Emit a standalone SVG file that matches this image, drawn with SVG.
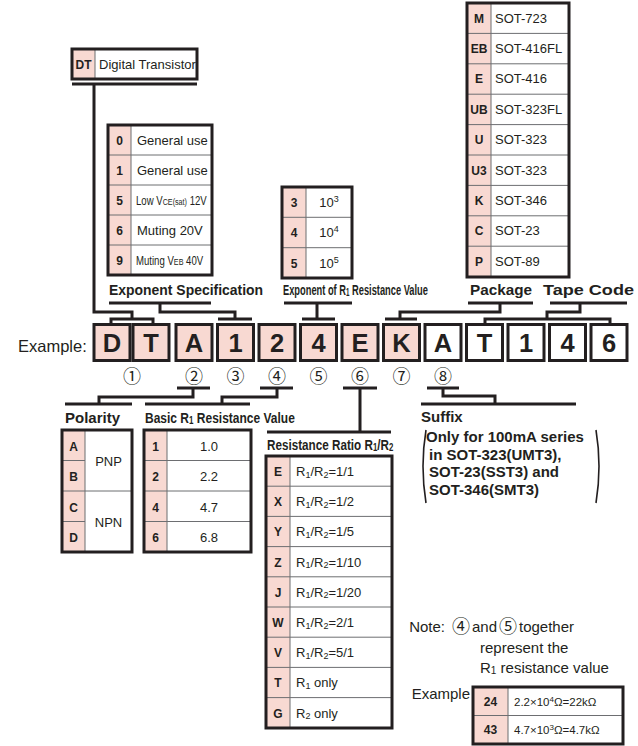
<svg xmlns="http://www.w3.org/2000/svg" width="638" height="746" viewBox="0 0 638 746">
<style>
.bg{fill:#fff}
.tb{fill:none;stroke:#231f20;stroke-width:3}
.pk{fill:#f8d9d2}
.dv{stroke:#6d6e71;stroke-width:1;fill:none}
.ln{fill:none;stroke:#231f20;stroke-width:3}
.pr{fill:none;stroke:#231f20;stroke-width:1.6}
text{font-family:"Liberation Sans",Arial,sans-serif;fill:#231f20}
.lt{font-weight:bold;font-size:12px;text-anchor:middle}
.tx{font-size:13px}
.tc{font-size:13px;text-anchor:middle}
.hd{font-weight:bold;font-size:15px}
.big{font-weight:bold;font-size:25.5px;text-anchor:middle}
.cn{font-family:"Noto Sans CJK JP","DejaVu Sans",sans-serif;font-size:18px;text-anchor:middle}
.nt{font-size:15px}
.bx{stroke:#231f20;stroke-width:3}
.wf{fill:#fff}
</style>
<rect width="638" height="746" class="bg"/>

<!-- connectors -->
<g id="connectors">
<path class="ln" d="M72,84H197M94,84V312H132V319M111,324V319H153V324"/>
<path class="ln" d="M109,303H211M160,303V312H235V319M218,319H252"/>
<path class="ln" d="M284,303H352M317,303V319M302,319H335"/>
<path class="ln" d="M468,303H533M500,303V312H400V319M385,319H417"/>
<path class="ln" d="M550,303H627M580,303V312H547V319M485,324V319H610V324"/>
<path class="ln" d="M177,388H210M193,388V397H99V404M65,404H132"/>
<path class="ln" d="M260,388H293M277,388V397H222V404M145,404H250"/>
<path class="ln" d="M343,388H377M360,388V432M267,432H391"/>
<path class="ln" d="M427,388H459M443,388V396H495V404M421,404H576"/>
</g>

<!-- DT -->
<g id="dt">
<rect x="72" y="49" width="125" height="30" class="wf"/>
<rect x="72" y="49" width="23" height="30" class="pk"/>
<line x1="95" y1="49" x2="95" y2="79" class="dv"/>
<rect x="72" y="49" width="125" height="30" class="tb"/>
<text x="83.5" y="69" class="lt">DT</text>
<text x="99" y="69" class="tx" font-size="12.5">Digital Transistor</text>
</g>

<!-- Exponent specification -->
<g id="exponent-spec">
<rect x="108" y="125" width="104" height="150" class="wf"/>
<rect x="108" y="125" width="23" height="150" class="pk"/>
<path class="dv" d="M131,125V275M108,155H212M108,185H212M108,215H212M108,245H212"/>
<rect x="108" y="125" width="104" height="150" class="tb"/>
<text x="119.5" y="145" class="lt">0</text>
<text x="119.5" y="175" class="lt">1</text>
<text x="119.5" y="205" class="lt">5</text>
<text x="119.5" y="235" class="lt">6</text>
<text x="119.5" y="265" class="lt">9</text>
<text x="137" y="145" class="tx">General use</text>
<text x="137" y="175" class="tx">General use</text>
<text transform="matrix(0.8,0,0,1,136,205)" font-size="12">Low V<tspan font-size="9">CE(sat)</tspan> 12V</text>
<text x="137" y="235" class="tx" font-size="13.5">Muting 20V</text>
<text transform="matrix(0.8,0,0,1,136,265)" font-size="12">Muting V<tspan font-size="9">EB</tspan> 40V</text>
<text transform="matrix(0.93,0,0,1,109,295)" class="hd">Exponent Specification</text>
</g>

<!-- Exponent of R1 -->
<g id="exponent-r1">
<rect x="282" y="187" width="70" height="91" class="wf"/>
<rect x="282" y="187" width="24" height="91" class="pk"/>
<path class="dv" d="M306,187V278M282,217.3H352M282,247.7H352"/>
<rect x="282" y="187" width="70" height="91" class="tb"/>
<text x="294" y="207" class="lt">3</text>
<text x="294" y="237.3" class="lt">4</text>
<text x="294" y="267.7" class="lt">5</text>
<text x="329" y="207" class="tc">10<tspan font-size="9" dy="-5">3</tspan></text>
<text x="329" y="237.3" class="tc">10<tspan font-size="9" dy="-5">4</tspan></text>
<text x="329" y="267.7" class="tc">10<tspan font-size="9" dy="-5">5</tspan></text>
<text transform="matrix(0.62,0,0,1,283,295)" class="hd" font-size="14.5">Exponent of R<tspan font-size="10" dy="1">1</tspan><tspan dy="-1"> Resistance Value</tspan></text>
</g>

<!-- Package -->
<g id="package">
<rect x="467" y="3" width="102" height="274" class="wf"/>
<rect x="467" y="3" width="24" height="274" class="pk"/>
<path class="dv" d="M491,3V277M467,33.4H569M467,63.8H569M467,94.2H569M467,124.6H569M467,155H569M467,185.4H569M467,215.8H569M467,246.2H569"/>
<rect x="467" y="3" width="102" height="274" class="tb"/>
<text x="479" y="22.5" class="lt">M</text>
<text x="479" y="52.9" class="lt">EB</text>
<text x="479" y="83.3" class="lt">E</text>
<text x="479" y="113.7" class="lt">UB</text>
<text x="479" y="144.1" class="lt">U</text>
<text x="479" y="174.5" class="lt">U3</text>
<text x="479" y="204.9" class="lt">K</text>
<text x="479" y="235.3" class="lt">C</text>
<text x="479" y="265.7" class="lt">P</text>
<text x="495" y="22.5" class="tx">SOT-723</text>
<text x="495" y="52.9" class="tx">SOT-416FL</text>
<text x="495" y="83.3" class="tx">SOT-416</text>
<text x="495" y="113.7" class="tx">SOT-323FL</text>
<text x="495" y="144.1" class="tx">SOT-323</text>
<text x="495" y="174.5" class="tx">SOT-323</text>
<text x="495" y="204.9" class="tx">SOT-346</text>
<text x="495" y="235.3" class="tx">SOT-23</text>
<text x="495" y="265.7" class="tx">SOT-89</text>
<text x="470" y="295" class="hd" font-size="16" textLength="62" lengthAdjust="spacingAndGlyphs">Package</text>
</g>

<g id="tape-code">
<text x="543" y="295" class="hd" font-size="16" textLength="91" lengthAdjust="spacingAndGlyphs">Tape Code</text>
</g>

<!-- Example row -->
<g id="example-row">
<text x="18" y="352" font-size="16.5">Example:</text>
<g class="bx">
<rect x="94" y="324.5" width="36" height="36" class="pk"/>
<rect x="133" y="324.5" width="36" height="36" class="pk"/>
<rect x="176" y="324.5" width="36" height="36" class="pk"/>
<rect x="217.5" y="324.5" width="36" height="36" class="pk"/>
<rect x="259" y="324.5" width="36" height="36" class="pk"/>
<rect x="300.5" y="324.5" width="36" height="36" class="pk"/>
<rect x="342" y="324.5" width="36" height="36" class="pk"/>
<rect x="383.5" y="324.5" width="36" height="36" class="pk"/>
<rect x="425" y="324.5" width="36" height="36" class="wf"/>
<rect x="466.5" y="324.5" width="36" height="36" class="wf"/>
<rect x="508" y="324.5" width="36" height="36" class="wf"/>
<rect x="549.5" y="324.5" width="36" height="36" class="wf"/>
<rect x="591" y="324.5" width="36" height="36" class="wf"/>
</g>
<text x="112" y="352" class="big">D</text>
<text x="151" y="352" class="big">T</text>
<text x="194" y="352" class="big">A</text>
<text x="235.5" y="352" class="big">1</text>
<text x="277" y="352" class="big">2</text>
<text x="318.5" y="352" class="big">4</text>
<text x="360" y="352" class="big">E</text>
<text x="401.5" y="352" class="big">K</text>
<text x="443" y="352" class="big">A</text>
<text x="484.5" y="352" class="big">T</text>
<text x="526" y="352" class="big">1</text>
<text x="567.5" y="352" class="big">4</text>
<text x="609" y="352" class="big">6</text>
<text x="132" y="383" class="cn">①</text>
<text x="194" y="383" class="cn">②</text>
<text x="235.5" y="383" class="cn">③</text>
<text x="277" y="383" class="cn">④</text>
<text x="318.5" y="383" class="cn">⑤</text>
<text x="360" y="383" class="cn">⑥</text>
<text x="401.5" y="383" class="cn">⑦</text>
<text x="443" y="383" class="cn">⑧</text>
</g>

<!-- Polarity -->
<g id="polarity">
<text x="65" y="423" class="hd">Polarity</text>
<rect x="62" y="430" width="70" height="122" class="wf"/>
<rect x="62" y="430" width="23" height="122" class="pk"/>
<path class="dv" d="M85,430V552M62,460.5H85M62,491H132M62,521.5H85"/>
<rect x="62" y="430" width="70" height="122" class="tb"/>
<text x="73.5" y="450.5" class="lt">A</text>
<text x="73.5" y="481" class="lt">B</text>
<text x="73.5" y="511.5" class="lt">C</text>
<text x="73.5" y="542" class="lt">D</text>
<text x="108.5" y="465.5" class="tc">PNP</text>
<text x="108.5" y="526.5" class="tc">NPN</text>
</g>

<!-- Basic R1 -->
<g id="basic-r1">
<text transform="matrix(0.8,0,0,1,145,423)" class="hd">Basic R<tspan font-size="10" dy="1">1</tspan><tspan dy="-1"> Resistance Value</tspan></text>
<rect x="144" y="430" width="107" height="122" class="wf"/>
<rect x="144" y="430" width="23" height="122" class="pk"/>
<path class="dv" d="M167,430V552M144,460.5H251M144,491H251M144,521.5H251"/>
<rect x="144" y="430" width="107" height="122" class="tb"/>
<text x="155.5" y="450.5" class="lt">1</text>
<text x="155.5" y="481" class="lt">2</text>
<text x="155.5" y="511.5" class="lt">4</text>
<text x="155.5" y="542" class="lt">6</text>
<text x="209" y="450.5" class="tc">1.0</text>
<text x="209" y="481" class="tc">2.2</text>
<text x="209" y="511.5" class="tc">4.7</text>
<text x="209" y="542" class="tc">6.8</text>
</g>

<!-- Resistance ratio -->
<g id="resistance-ratio">
<text transform="matrix(0.78,0,0,1,267,450)" class="hd" font-size="14.5">Resistance Ratio R<tspan font-size="10" dy="1">1</tspan><tspan dy="-1">/R</tspan><tspan font-size="10" dy="1">2</tspan></text>
<rect x="266" y="456" width="126" height="272" class="wf"/>
<rect x="266" y="456" width="24" height="272" class="pk"/>
<path class="dv" d="M290,456V728M266,486.2H392M266,516.4H392M266,546.6H392M266,576.8H392M266,607H392M266,637.2H392M266,667.4H392M266,697.6H392"/>
<rect x="266" y="456" width="126" height="272" class="tb"/>
<text x="278" y="476" class="lt">E</text>
<text x="278" y="506.2" class="lt">X</text>
<text x="278" y="536.4" class="lt">Y</text>
<text x="278" y="566.6" class="lt">Z</text>
<text x="278" y="596.8" class="lt">J</text>
<text x="278" y="627" class="lt">W</text>
<text x="278" y="657.2" class="lt">V</text>
<text x="278" y="687.4" class="lt">T</text>
<text x="278" y="717.6" class="lt">G</text>
<text x="296" y="476" class="tx">R<tspan font-size="9" dy="1.5">1</tspan><tspan dy="-1.5">/R</tspan><tspan font-size="9" dy="1.5">2</tspan><tspan dy="-1.5">=1/1</tspan></text>
<text x="296" y="506.2" class="tx">R<tspan font-size="9" dy="1.5">1</tspan><tspan dy="-1.5">/R</tspan><tspan font-size="9" dy="1.5">2</tspan><tspan dy="-1.5">=1/2</tspan></text>
<text x="296" y="536.4" class="tx">R<tspan font-size="9" dy="1.5">1</tspan><tspan dy="-1.5">/R</tspan><tspan font-size="9" dy="1.5">2</tspan><tspan dy="-1.5">=1/5</tspan></text>
<text x="296" y="566.6" class="tx">R<tspan font-size="9" dy="1.5">1</tspan><tspan dy="-1.5">/R</tspan><tspan font-size="9" dy="1.5">2</tspan><tspan dy="-1.5">=1/10</tspan></text>
<text x="296" y="596.8" class="tx">R<tspan font-size="9" dy="1.5">1</tspan><tspan dy="-1.5">/R</tspan><tspan font-size="9" dy="1.5">2</tspan><tspan dy="-1.5">=1/20</tspan></text>
<text x="296" y="627" class="tx">R<tspan font-size="9" dy="1.5">1</tspan><tspan dy="-1.5">/R</tspan><tspan font-size="9" dy="1.5">2</tspan><tspan dy="-1.5">=2/1</tspan></text>
<text x="296" y="657.2" class="tx">R<tspan font-size="9" dy="1.5">1</tspan><tspan dy="-1.5">/R</tspan><tspan font-size="9" dy="1.5">2</tspan><tspan dy="-1.5">=5/1</tspan></text>
<text x="296" y="687.4" class="tx">R<tspan font-size="9" dy="1.5">1</tspan><tspan dy="-1.5"> only</tspan></text>
<text x="296" y="717.6" class="tx">R<tspan font-size="9" dy="1.5">2</tspan><tspan dy="-1.5"> only</tspan></text>
</g>

<!-- Suffix -->
<g id="suffix">
<text x="421" y="422" class="hd">Suffix</text>
<path class="pr" d="M426,430Q420,466 426,503M596,430Q602,466 596,503"/>
<text x="426" y="442" class="hd">Only for 100mA series</text>
<text x="429" y="460" class="hd">in SOT-323(UMT3),</text>
<text x="429" y="477" class="hd">SOT-23(SST3) and</text>
<text x="429" y="495" class="hd">SOT-346(SMT3)</text>
</g>

<!-- Note -->
<g id="note">
<text x="445" y="632" class="nt" text-anchor="end">Note:</text>
<text x="461" y="633" class="cn">④</text>
<text x="472" y="632" class="nt">and</text>
<text x="508" y="633" class="cn">⑤</text>
<text x="519" y="632" class="nt">together</text>
<text x="480" y="653" class="nt">represent the</text>
<text x="480" y="673" class="nt">R<tspan font-size="10" dy="1">1</tspan><tspan dy="-1"> resistance value</tspan></text>
</g>

<!-- Example table -->
<g id="example-table">
<text x="470" y="699" class="nt" text-anchor="end">Example</text>
<rect x="473" y="687" width="150" height="57" class="wf"/>
<rect x="473" y="687" width="35" height="57" class="pk"/>
<path class="dv" d="M508,687V744M473,715.5H623"/>
<rect x="473" y="687" width="150" height="57" class="tb"/>
<text x="490.5" y="705.5" class="lt">24</text>
<text x="490.5" y="734" class="lt">43</text>
<text x="514" y="705.5" font-size="11.5">2.2×10<tspan font-size="8" dy="-4">4</tspan><tspan dy="4">Ω=22kΩ</tspan></text>
<text x="514" y="734" font-size="11.5">4.7×10<tspan font-size="8" dy="-4">3</tspan><tspan dy="4">Ω=4.7kΩ</tspan></text>
</g>
</svg>
